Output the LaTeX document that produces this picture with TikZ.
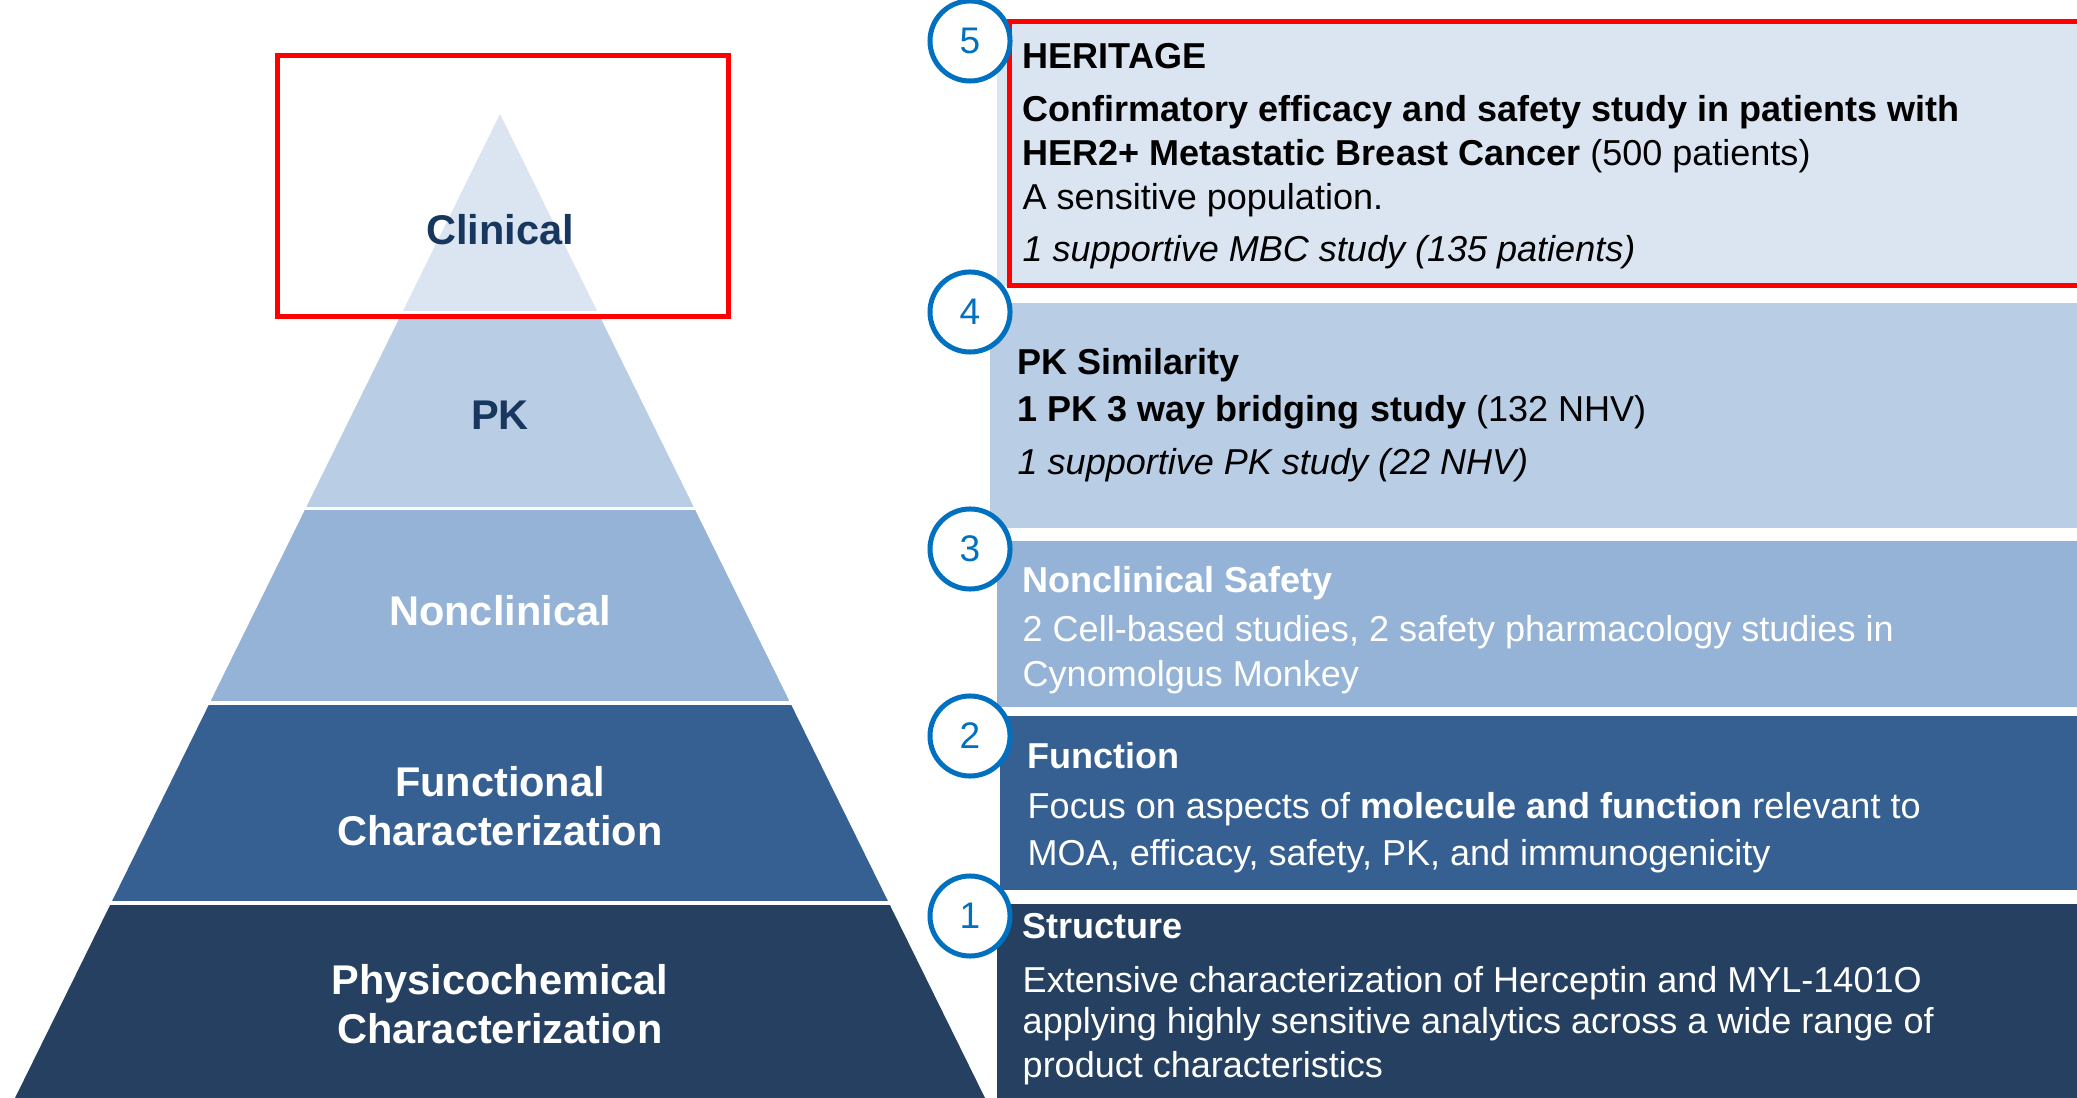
\documentclass[tikz,border=0pt]{standalone}
\usepackage{fontspec}
\setmainfont{Liberation Sans}

\definecolor{clinfill}{HTML}{DBE5F1}
\definecolor{pkfill}{HTML}{B9CDE5}
\definecolor{noncfill}{HTML}{95B3D7}
\definecolor{funcfill}{HTML}{376092}
\definecolor{physfill}{HTML}{254061}
\definecolor{ringblue}{HTML}{0070C0}
\definecolor{tiertext}{HTML}{17375E}

\begin{document}
\begin{tikzpicture}[x=0.01cm, y=-0.01cm,
  tier/.style={font=\bfseries\fontsize{0.415cm}{0.49cm}\selectfont, align=center, inner sep=0pt},
  ring/.style={circle, draw=ringblue, line width=0.05cm, fill=white, minimum size=0.8cm,
    inner sep=0pt, text=ringblue, font=\fontsize{0.37cm}{0.4cm}\selectfont},
  info/.style={anchor=base west, align=left, inner sep=0pt, font=\fontsize{0.36cm}{0.44cm}\selectfont},
  hilite/.style={draw=red, line width=0.05cm}]
\useasboundingbox (0,0) rectangle (2077,1098);

% pyramid: horizontal bands clipped to the outline
\begin{scope}
  \clip (500,114) -- (15,1098) -- (985,1098) -- cycle;
  \foreach \ya/\yb/\col in {100/311/clinfill, 314/507/pkfill, 510/701/noncfill,
                            705/901/funcfill, 905/1100/physfill}
    \fill[\col] (0,\ya) rectangle (1000,\yb);
\end{scope}

\node[tier, text=tiertext] (clin) at (500,230) {Clinical};
\node[tier, text=tiertext] (pk) at (500,415) {PK};
\node[tier, text=white] (nonc) at (500,611) {Nonclinical};
\node[tier, text=white] (func) at (500,806) {Functional\\Characterization};
\node[tier, text=white] (phys) at (500,1004) {Physicochemical\\Characterization};

% bars on the right
\foreach \xa/\ya/\yb/\col in {997/22/286/clinfill, 990/303/528/pkfill, 997/541/707/noncfill,
                              1000/716/890/funcfill, 997/904/1100/physfill}
  \fill[\col] (\xa,\ya) rectangle (2077,\yb);

% highlight frames
\draw[hilite] (277,56) rectangle (728,317);
\draw[hilite] (1009,22) rectangle (2100,286);

% step numbers
\foreach \n/\y in {5/41, 4/312, 3/549, 2/736, 1/916}
  \node[ring] (num\n) at (970,\y) {\n};

% bar texts, placed by the baseline of their last line
\node[info] (heritage) at (1022,262) {\textbf{HERITAGE}\\[0.09cm]
  \textbf{Confirmatory efficacy and safety study in patients with}\\
  \textbf{HER2+ Metastatic Breast Cancer} (500 patients)\\
  A sensitive population.\\[0.08cm]
  \textit{1 supportive MBC study (135 patients)}};
\node[info] (pksim) at (1017,475) {\textbf{PK Similarity}\\[0.03cm]
  \textbf{1 PK 3 way bridging study} (132 NHV)\\[0.09cm]
  \textit{1 supportive PK study (22 NHV)}};
\node[info, text=white] (safety) at (1022,686) {\textbf{Nonclinical Safety}\\[0.05cm]
  2 Cell-based studies, 2 safety pharmacology studies in\\
  Cynomolgus Monkey};
\node[info, text=white] (function) at (1027,865) {\textbf{Function}\\[0.06cm]
  Focus on aspects of \textbf{molecule and function} relevant to\\[0.02cm]
  MOA, efficacy, safety, PK, and immunogenicity};
\node[info, text=white] (structure) at (1022,1077) {\textbf{Structure}\\[0.10cm]
  Extensive characterization of Herceptin and MYL-1401O\\[-0.03cm]
  applying highly sensitive analytics across a wide range of\\[-0.01cm]
  product characteristics};
\end{tikzpicture}
\end{document}
